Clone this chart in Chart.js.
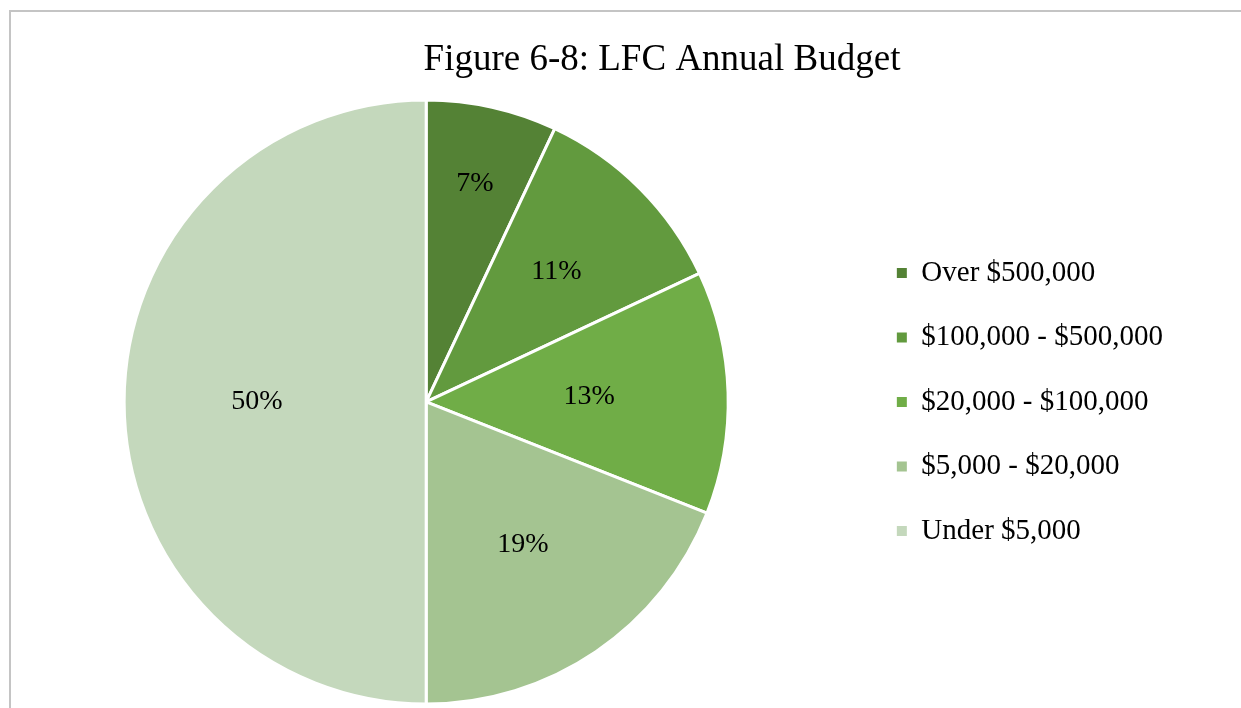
<!DOCTYPE html>
<html>
<head>
<meta charset="utf-8">
<script src="https://cdn.jsdelivr.net/npm/chart.js@4.4.1/dist/chart.umd.min.js"></script>
<style>
  html, body { margin: 0; padding: 0; background: #fff; overflow: hidden; }
  #frame { position: absolute; left: 9px; top: 10px; width: 1400px; height: 900px; border: 2px solid #c4c4c4; }
  #chart { position: absolute; left: -9px; top: 0; }
</style>
</head>
<body>
<div id="frame"></div>
<canvas id="chart" width="1342" height="708"></canvas>
<script>
const categories = ["Over $500,000", "$100,000 - $500,000", "$20,000 - $100,000", "$5,000 - $20,000", "Under $5,000"];
const shares = [7, 11, 13, 19, 50];
const sliceColors = ["#548235", "#629a3e", "#70ad47", "#a4c491", "#c4d8bc"];

// how far out from the centre each percent label sits (fraction of radius)
const labelRadius = [0.74, 0.61, 0.54, 0.57, 0.56];

const pieLabels = {
    id: "pieLabels",
    afterDatasetsDraw(chart) {
        const ctx = chart.ctx;
        const meta = chart.getDatasetMeta(0);
        ctx.save();
        ctx.font = "28px 'Liberation Serif'";
        ctx.fillStyle = "#000";
        ctx.textAlign = "center";
        ctx.textBaseline = "middle";
        meta.data.forEach((arc, i) => {
            const p = arc.getProps(["x", "y", "startAngle", "endAngle", "outerRadius"], true);
            const mid = (p.startAngle + p.endAngle) / 2;
            const r = p.outerRadius * labelRadius[i];
            ctx.fillText(shares[i] + "%", p.x + Math.cos(mid) * r, p.y + Math.sin(mid) * r);
        });
        ctx.restore();
    }
};

// the title is centred on the whole frame, not on the padded layout area
const centreTitle = {
    id: "centreTitle",
    afterLayout(chart) {
        const t = chart.titleBlock;
        if (!t) return;
        const shift = chart.width / 2 - (t.left + t.right) / 2;
        t.left += shift;
        t.right += shift;
    }
};

new Chart(document.getElementById("chart"), {
    type: "pie",
    data: {
        labels: categories,
        datasets: [{
            data: shares,
            backgroundColor: sliceColors,
            borderColor: "#ffffff",
            borderWidth: 3,
            hoverOffset: 0
        }]
    },
    options: {
        responsive: false,
        animation: false,
        layout: { padding: { left: 0, top: 0, right: 160, bottom: 2.5 } },
        plugins: {
            title: {
                display: true,
                text: "Figure 6-8: LFC Annual Budget",
                color: "#000",
                font: { family: "'Liberation Serif'", size: 37, weight: "normal" },
                padding: { top: 38, bottom: 16 }
            },
            legend: {
                position: "right",
                fullSize: false,
                labels: {
                    color: "#000",
                    font: { family: "'Liberation Serif'", size: 29 },
                    boxWidth: 10,
                    boxHeight: 10,
                    padding: 35.5,
                    generateLabels(chart) {
                        const items = Chart.overrides.pie.plugins.legend.labels.generateLabels(chart);
                        return items.map(it => Object.assign(it, { lineWidth: 0 }));
                    }
                }
            },
            tooltip: { enabled: false }
        }
    },
    plugins: [pieLabels, centreTitle]
});
</script>
</body>
</html>
